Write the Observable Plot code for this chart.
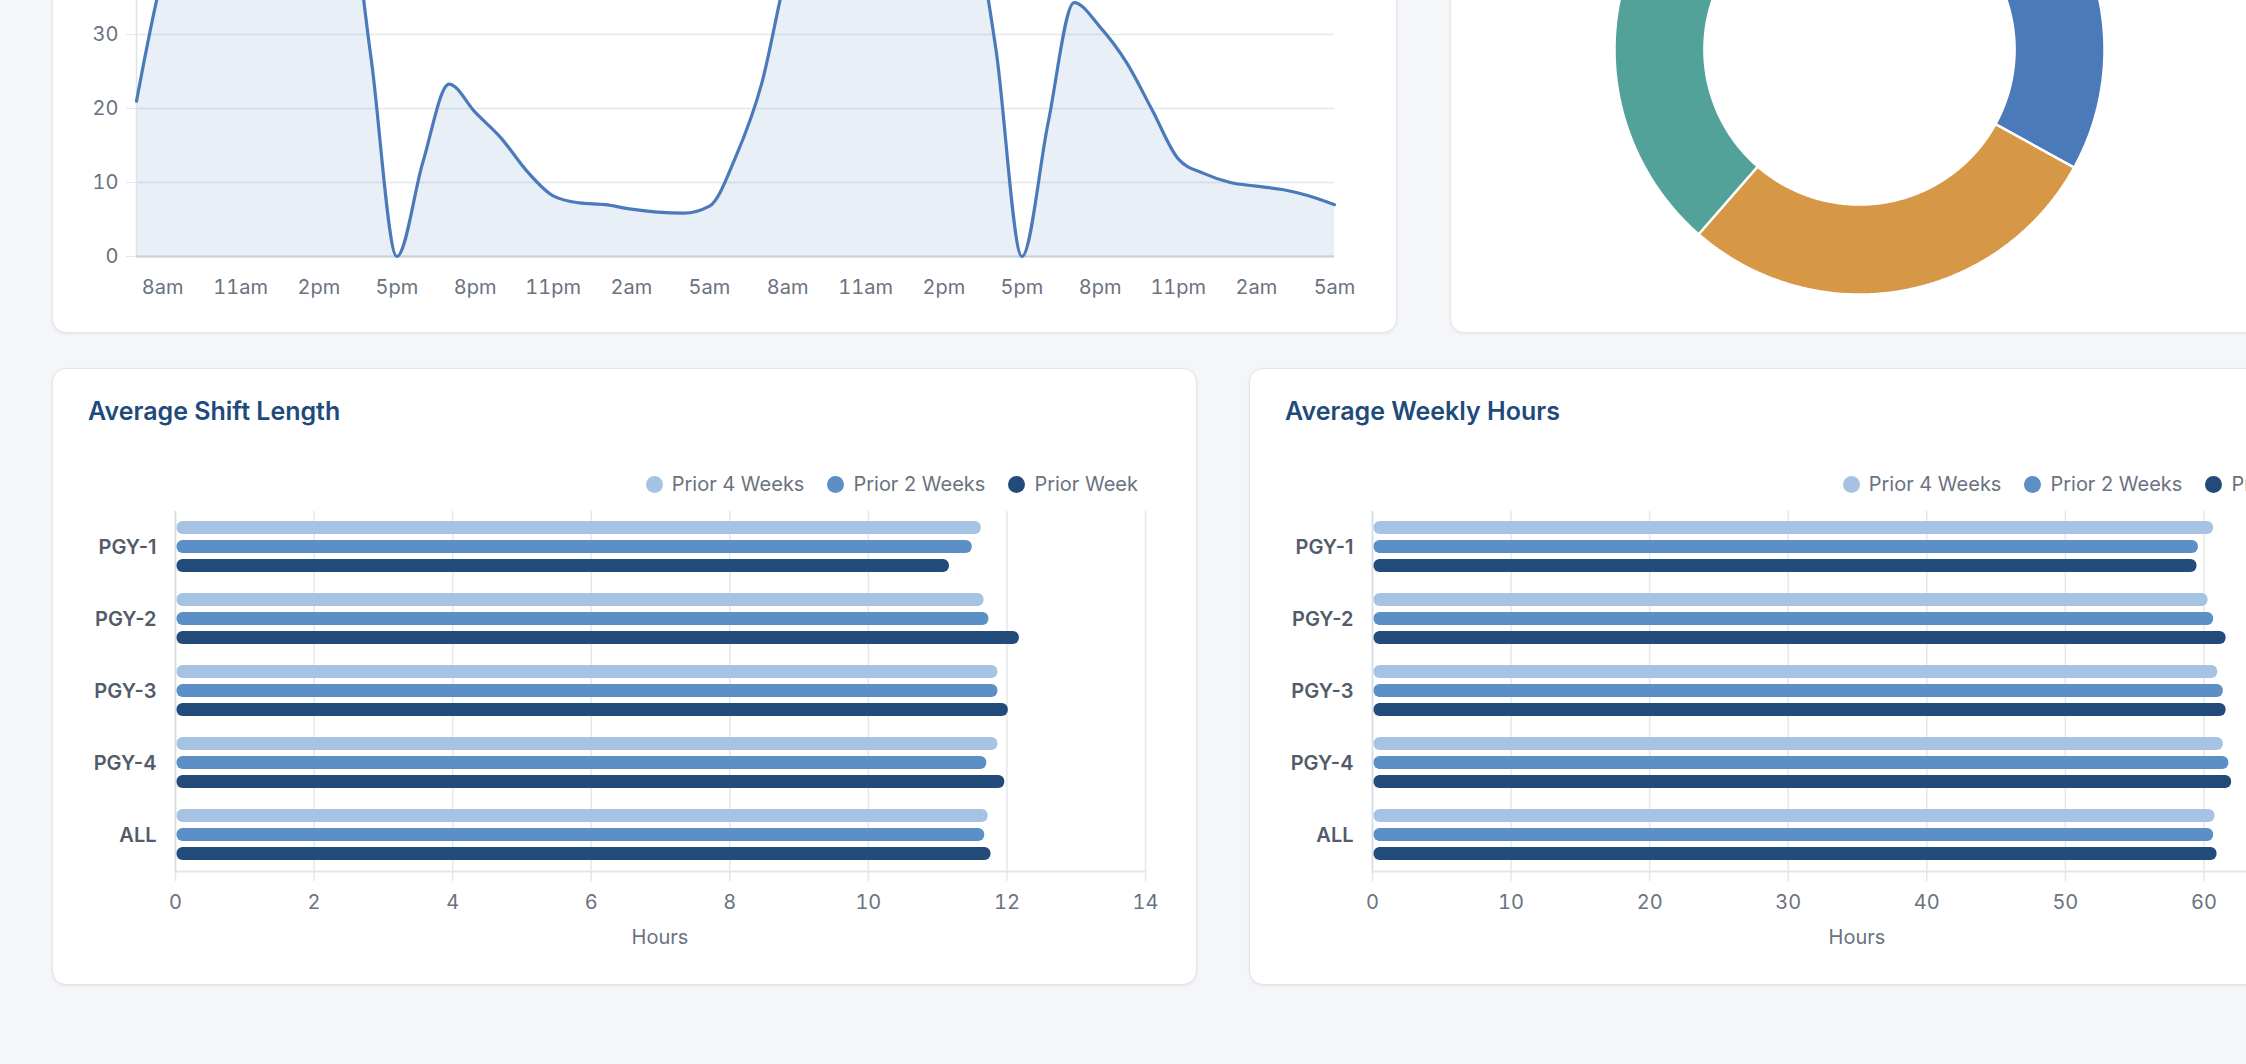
<!DOCTYPE html>
<html>
<head>
<meta charset="utf-8">
<script src="https://cdn.jsdelivr.net/npm/d3@7"></script>
<script src="https://cdn.jsdelivr.net/npm/@observablehq/plot@0.6"></script>
<style>
  html, body { margin: 0; padding: 0; }
  body { width: 2246px; height: 1064px; overflow: hidden; background: #f5f6f8; position: relative; font-family: Inter, "Noto Sans", sans-serif; }
  .card { position: absolute; background: #fff; border: 1px solid #e1e5eb; border-radius: 14px; box-shadow: 0 1px 3px rgba(20,30,50,0.07); box-sizing: border-box; }
  .title { position: absolute; font-size: 25px; font-weight: 600; color: #1f4a7c; white-space: nowrap; }
  .legend { position: absolute; display: flex; align-items: center; font-size: 20px; color: #6b7280; white-space: nowrap; }
  .legend .item { display: flex; align-items: center; margin-left: 23px; }
  .legend .sw { width: 17px; height: 17px; border-radius: 50%; margin-right: 9px; }
  .xlabel { position: absolute; font-size: 20px; color: #6b7280; transform: translate(-50%, -50%); white-space: nowrap; }
</style>
</head>
<body>
<script>
// ---------------- DATA ----------------
// Line chart: hourly values starting 7am, through 5am two days later
const lineValues = [21, 38, 48, 52, 55, 52, 54, 52, 50, 27, 0, 12.8, 23.3, 19.5, 16, 11.5, 8.2, 7.25, 7.0, 6.4, 6.0, 5.85, 6.8, 13.4, 23.3, 39, 49, 53, 56, 53, 55, 52, 47, 28, 0, 18, 34.3, 31, 26.3, 19.8, 13.2, 11.2, 10.0, 9.5, 9.05, 8.2, 7.0];
const lineTickLabels = ["8am", "11am", "2pm", "5pm", "8pm", "11pm", "2am", "5am", "8am", "11am", "2pm", "5pm", "8pm", "11pm", "2am", "5am"];
const lineTickIndex = [1, 4, 7, 10, 13, 16, 19, 22, 25, 28, 31, 34, 37, 40, 43, 46];
const lineGridTicks = [0, 10, 20, 30, 40, 50, 60];
const lineYTickLabels = [0, 10, 20, 30];

// Donut chart
const donutLabels = ["Slice 1", "Slice 2", "Slice 3"];
const donutValues = [33.0, 28.4, 38.6];
const donutColors = ["#4a7aba", "#d69746", "#52a29a"];

// Bar charts
const categories = ["PGY-1", "PGY-2", "PGY-3", "PGY-4", "ALL"];
const seriesNames = ["Prior 4 Weeks", "Prior 2 Weeks", "Prior Week"];
const seriesColors = ["#a6c3e3", "#5b8fc5", "#234b7a"];

const shiftPrior4Weeks = [11.63, 11.67, 11.87, 11.87, 11.73];
const shiftPrior2Weeks = [11.50, 11.74, 11.87, 11.71, 11.68];
const shiftPriorWeek   = [11.17, 12.18, 12.02, 11.97, 11.77];
const shiftTicks = [0, 2, 4, 6, 8, 10, 12, 14];

const weeklyPrior4Weeks = [60.7, 60.3, 61.0, 61.4, 60.8];
const weeklyPrior2Weeks = [59.6, 60.7, 61.4, 61.8, 60.7];
const weeklyPriorWeek   = [59.5, 61.6, 61.6, 62.0, 60.95];
const weeklyTicks = [0, 10, 20, 30, 40, 50, 60, 70];

// ---------------- HELPERS ----------------
const FONT = "Inter, 'Noto Sans', sans-serif";
const TEXT = "#6b7280";

function place(el, left, top) {
  el.style.position = "absolute";
  el.style.left = left + "px";
  el.style.top = top + "px";
  document.body.appendChild(el);
  return el;
}
function card(left, top, width, height) {
  const d = document.createElement("div");
  d.className = "card";
  d.style.left = left + "px"; d.style.top = top + "px";
  d.style.width = width + "px"; d.style.height = height + "px";
  document.body.appendChild(d);
}

// Cards
card(52, -400, 1345, 733);
card(1450, -400, 1000, 733);
card(52, 368, 1145, 617);
card(1249, 368, 1145, 617);

// ---------------- LINE CHART ----------------
const lineRows = lineValues.map((v, i) => ({i, v}));
const linePlot = Plot.plot({
  width: 1345, height: 532,
  marginLeft: 84, marginRight: 63, marginTop: 12, marginBottom: 76,
  style: {fontFamily: FONT, fontSize: "20px", color: TEXT, background: "transparent", overflow: "visible"},
  x: {domain: [0, lineValues.length - 1]},
  y: {domain: [0, 60]},
  marks: [
    Plot.gridY(lineGridTicks, {stroke: "#e3e8ef", strokeOpacity: 1, strokeWidth: 1.5}),
    Plot.areaY(lineRows, {x: "i", y: "v", curve: "monotone-x", fill: "#4a7aba", fillOpacity: 0.12}),
    Plot.ruleX([0], {stroke: "#dde2ea", strokeWidth: 1.5}),
    Plot.ruleY([0], {stroke: "#c9d0da", strokeWidth: 2}),
    Plot.lineY(lineRows, {x: "i", y: "v", curve: "monotone-x", stroke: "#4a7aba", strokeWidth: 3.2}),
    Plot.axisY({ticks: lineYTickLabels, tickSize: 10, tickPadding: 8, stroke: "#e3e8ef", fill: TEXT, fontSize: 20, label: null}),
    Plot.axisX({ticks: lineTickIndex, tickFormat: d => lineTickLabels[lineTickIndex.indexOf(d)], tickSize: 0, tickPadding: 23, fill: TEXT, fontSize: 20, label: null})
  ]
});
place(linePlot, 52, -200);

// ---------------- DONUT ----------------
const R_OUT = 1, R_IN = 0.633, HALF = 300 / 245;
const donutData = donutLabels.map((label, k) => ({label, value: donutValues[k]}));
const arcs = d3.pie().sort(null).value(d => d.value)(donutData);
const ringPts = [];
for (const a of arcs) {
  const n = 160;
  const pts = [];
  for (let k = 0; k <= n; k++) {
    const t = a.startAngle + (a.endAngle - a.startAngle) * k / n;
    pts.push({slice: a.data.label, x: R_OUT * Math.sin(t), y: R_OUT * Math.cos(t)});
  }
  for (let k = n; k >= 0; k--) {
    const t = a.startAngle + (a.endAngle - a.startAngle) * k / n;
    pts.push({slice: a.data.label, x: R_IN * Math.sin(t), y: R_IN * Math.cos(t)});
  }
  pts.push({...pts[0]});
  ringPts.push(...pts);
}
const donutPlot = Plot.plot({
  width: 600, height: 600, margin: 0,
  style: {background: "transparent", overflow: "visible"},
  x: {domain: [-HALF, HALF], axis: null},
  y: {domain: [-HALF, HALF], axis: null},
  color: {domain: donutLabels, range: donutColors},
  marks: [
    Plot.line(ringPts, {x: "x", y: "y", z: "slice", fill: "slice", stroke: "white", strokeWidth: 2.5, strokeLinejoin: "miter", curve: "linear"})
  ]
});
place(donutPlot, 1858.5 - 300, 49 - 300);

// ---------------- BAR CHARTS ----------------
function barChart(cardLeft, title, arrays, domainMax, ticks) {
  const t = document.createElement("div");
  t.className = "title"; t.textContent = title;
  place(t, cardLeft + 36, 396);

  const lg = document.createElement("div");
  lg.className = "legend";
  seriesNames.forEach((s, k) => {
    const it = document.createElement("div");
    it.className = "item";
    const sw = document.createElement("div");
    sw.className = "sw"; sw.style.background = seriesColors[k];
    const tx = document.createElement("span"); tx.textContent = s;
    it.appendChild(sw); it.appendChild(tx);
    lg.appendChild(it);
  });
  place(lg, 0, 470);
  lg.style.left = "auto";
  lg.style.right = (2246 - (cardLeft + 1086)) + "px";
  lg.style.height = "28px";

  const rows = [];
  categories.forEach((c, ci) => seriesNames.forEach((s, si) => rows.push({category: c, series: s, value: arrays[si][ci]})));

  const p = Plot.plot({
    width: 1145, height: 450,
    marginLeft: 123, marginRight: 52, marginTop: 30, marginBottom: 60,
    style: {fontFamily: FONT, fontSize: "20px", color: TEXT, background: "transparent", overflow: "visible"},
    x: {domain: [0, domainMax]},
    y: {domain: seriesNames, paddingInner: 0.29, paddingOuter: 0.52, axis: null},
    fy: {domain: categories, padding: 0},
    color: {domain: seriesNames, range: seriesColors},
    marks: [
      Plot.gridX(ticks, {stroke: "#e5e7eb", strokeOpacity: 1, strokeWidth: 1.5}),
      Plot.ruleX([0], {stroke: "#d8dce2", strokeWidth: 1.5}),
      Plot.frame({anchor: "bottom", facetAnchor: "bottom", stroke: "#e3e6ea", strokeWidth: 2}),
      Plot.barX(rows, {x: "value", y: "series", fy: "category", fill: "series", rx: 6, insetLeft: 1.5}),
      Plot.axisX({ticks, tickSize: 10, tickPadding: 13, stroke: "#e5e7eb", strokeWidth: 1.5, fill: TEXT, fontSize: 20, label: null}),
      Plot.axisFy({anchor: "left", tickSize: 0, tickPadding: 19, fontSize: 20, fontWeight: 600, fill: "#525b69", label: null})
    ]
  });
  place(p, cardLeft, 481);

  const xl = document.createElement("div");
  xl.className = "xlabel"; xl.textContent = "Hours";
  place(xl, cardLeft + 123 + 970 / 2, 937);
}

barChart(52, "Average Shift Length", [shiftPrior4Weeks, shiftPrior2Weeks, shiftPriorWeek], 14, shiftTicks);
barChart(1249, "Average Weekly Hours", [weeklyPrior4Weeks, weeklyPrior2Weeks, weeklyPriorWeek], 70, weeklyTicks);
</script>
</body>
</html>
